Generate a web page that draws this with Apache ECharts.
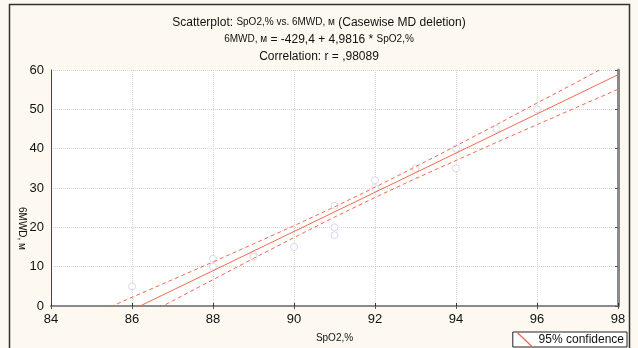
<!DOCTYPE html>
<html>
<head>
<meta charset="utf-8">
<script src="https://cdn.jsdelivr.net/npm/echarts@6/dist/echarts.min.js"></script>
<style>
html,body{margin:0;padding:0;background:#fdf9f0;}
#c{width:638px;height:348px;}
</style>
</head>
<body>
<div id="c"></div>
<script>
// Observed points
const spo2 = [86, 88, 88, 89, 89, 90, 91, 91, 91, 92, 92, 93, 94, 94, 95, 96];
const mwd  = [5, 10, 12, 13, 12.5, 15, 20, 18, 25.5, 32, 30, 35, 40, 35, 45, 50];
// Regression (from chart subtitle)
const intercept = -429.4;
const slope = 4.9816;
const lineX = [84, 98];
// 95% confidence band
const bandX     = [85, 86, 87, 88, 89, 90, 91, 92, 93, 94, 95, 96, 97, 98];
const bandUpper = [-2.3, 2.2, 6.7, 11.2, 15.8, 20.4, 25.2, 30.2, 35.4, 40.7, 46.1, 51.6, 57.0, 62.5];
const bandLower = [-9.7, -4.2, 1.3, 6.7, 12.1, 17.4, 22.6, 27.6, 32.4, 37.0, 41.6, 46.1, 50.6, 55.1];
// Axis ticks
const xTicks = {min: 84, max: 98, interval: 2};
const yTicks = {min: 0, max: 60, interval: 10};

const chart = echarts.init(document.getElementById('c'), null, {renderer: 'canvas'});
const FONT = 'Liberation Sans, Arial, sans-serif';
const RED = '#f26a4f';

const pts = spo2.map((x, i) => [x, mwd[i]]);
const fit = lineX.map(x => [x, intercept + slope * x]);
const up = bandX.map((x, i) => [x, bandUpper[i]]);
const lo = bandX.map((x, i) => [x, bandLower[i]]);

chart.setOption({
  backgroundColor: '#fdf9f0',
  animation: false,
  title: {
    left: 'center', top: 9,
    text: '{a|Scatterplot: }{b|SpO2,% vs. 6MWD, м}{a| (Casewise MD deletion)}\n{b|6MWD, м}{a| = -429,4 + 4,9816 * }{b|SpO2,%}\n{a|Correlation: r = ,98089}',
    textStyle: {
      fontFamily: FONT, color: '#111', fontWeight: 'normal', lineHeight: 17,
      rich: {
        a: {fontFamily: FONT, fontSize: 12, color: '#111', lineHeight: 17},
        b: {fontFamily: FONT, fontSize: 10, color: '#111', lineHeight: 17}
      }
    }
  },
  legend: {
    right: 11, bottom: 1,
    backgroundColor: '#fff', borderColor: '#222', borderWidth: 1,
    padding: [1, 3, 1, 4], itemGap: 0,
    itemWidth: 22, itemHeight: 13,
    textStyle: {fontFamily: FONT, fontSize: 12, color: '#111', padding: [0, 0, 0, -2]},
    data: [{name: '95% confidence', icon: 'path://M0,0 L1.5,0 L12,10 L10.5,10 Z'}]
  },
  grid: {
    left: 51, top: 70, right: 20, bottom: 42,
    show: true, backgroundColor: '#fff', borderWidth: 0
  },
  xAxis: [{
    type: 'value', min: xTicks.min, max: xTicks.max, interval: xTicks.interval,
    name: 'SpO2,%', nameLocation: 'middle', nameGap: 27,
    nameTextStyle: {fontFamily: FONT, fontSize: 10, color: '#111'},
    axisLine: {lineStyle: {color: '#333', width: 1}},
    axisTick: {inside: true, length: 3, lineStyle: {color: '#333'}},
    axisLabel: {fontFamily: FONT, fontSize: 13, color: '#111', margin: 7},
    splitLine: {show: true, lineStyle: {color: '#d4d4d4', type: 'dotted'}}
  }, {
    type: 'value', position: 'top', min: xTicks.min, max: xTicks.max, interval: xTicks.interval,
    axisLine: {show: true, lineStyle: {color: '#8a8a8a', width: 2}},
    axisTick: {inside: true, length: 3, lineStyle: {color: '#555'}},
    axisLabel: {show: false}, splitLine: {show: false}
  }],
  yAxis: [{
    type: 'value', min: yTicks.min, max: yTicks.max, interval: yTicks.interval,
    axisLine: {show: true, lineStyle: {color: '#444', width: 1}},
    axisTick: {show: false},
    axisLabel: {fontFamily: FONT, fontSize: 13, color: '#111', margin: 7},
    splitLine: {show: true, lineStyle: {color: '#d4d4d4', type: 'dotted'}}
  }, {
    type: 'value', position: 'right', min: yTicks.min, max: yTicks.max, interval: yTicks.interval,
    axisLine: {show: true, lineStyle: {color: '#8a8a8a', width: 3}},
    axisTick: {show: true, inside: true, length: 3, lineStyle: {color: '#555'}},
    axisLabel: {show: false}, splitLine: {show: false}
  }],
  graphic: [
    {type: 'rect', z: 100, silent: true, shape: {x: 9.5, y: 4.5, width: 620, height: 350},
     style: {fill: 'none', stroke: '#333', lineWidth: 1.5}},
    {type: 'text', z: 100, left: 17, top: 207, rotation: -Math.PI / 2,
     style: {text: '6MWD, м', font: '10px ' + FONT, fill: '#111'}}
  ],
  series: [
    {type: 'scatter', name: 'pts', data: pts, symbol: 'circle', symbolSize: 7,
     itemStyle: {color: '#fff', borderColor: '#cfd0ec', borderWidth: 1}, z: 3},
    {type: 'line', name: 'fit', data: fit, symbol: 'none', clip: true,
     lineStyle: {color: RED, width: 1}, z: 4},
    {type: 'line', name: '95% confidence', data: up, symbol: 'none', clip: true,
     itemStyle: {color: RED},
     lineStyle: {color: RED, width: 1, type: [4, 3]}, z: 4},
    {type: 'line', name: '95% confidence', data: lo, symbol: 'none', clip: true,
     itemStyle: {color: RED},
     lineStyle: {color: RED, width: 1, type: [4, 3]}, z: 4}
  ]
});
</script>
</body>
</html>
